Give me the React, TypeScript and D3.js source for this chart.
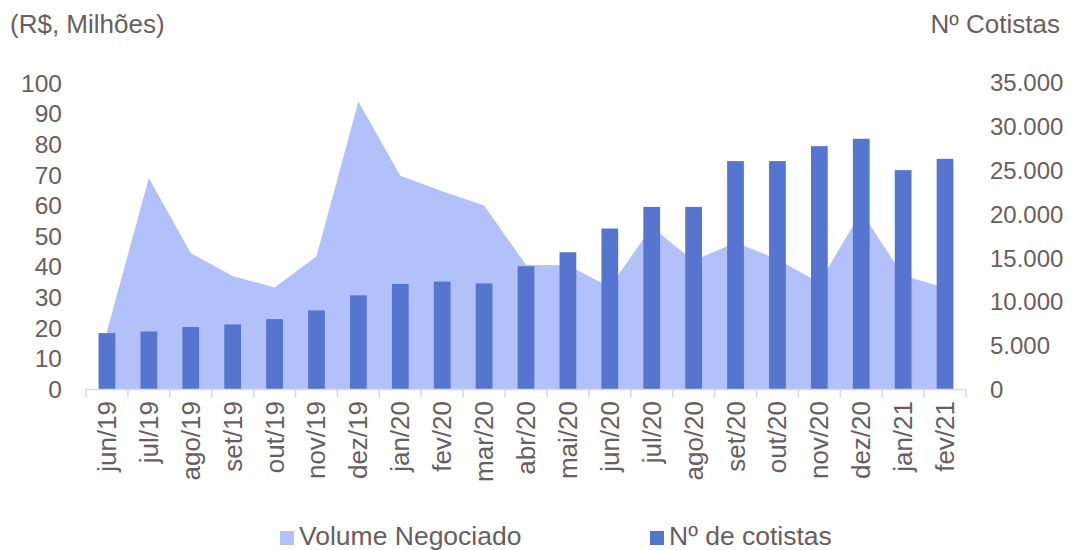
import React, { useEffect, useRef } from 'react';
import * as d3 from 'd3';

// meses do eixo x
const months = [
  'jun/19', 'jul/19', 'ago/19', 'set/19', 'out/19', 'nov/19', 'dez/19',
  'jan/20', 'fev/20', 'mar/20', 'abr/20', 'mai/20', 'jun/20', 'jul/20',
  'ago/20', 'set/20', 'out/20', 'nov/20', 'dez/20', 'jan/21', 'fev/21'
];

// Volume Negociado (R$, milhões) - eixo esquerdo
const volume = [
  19, 69, 44.5, 37, 33.3, 43.5, 94, 69.7, 64.7, 60, 40.7,
  40.5, 33.4, 53, 42, 48, 42.5, 34.8, 58, 37.2, 33.2
];

// Nº de cotistas - eixo direito
const cotistas = [
  6440, 6630, 7130, 7430, 8040, 9040, 10750, 12050, 12320, 12120, 14070,
  15670, 18380, 20850, 20850, 26080, 26080, 27790, 28630, 25050, 26340
];

const leftTicks = [0, 10, 20, 30, 40, 50, 60, 70, 80, 90, 100];
const rightTicks = [0, 5000, 10000, 15000, 20000, 25000, 30000, 35000];

const AREA_COLOR = '#B3C1FB';
const BAR_COLOR = '#5675CF';
const TEXT_COLOR = '#675E61';
const AXIS_COLOR = '#D9D9D9';
const FONT = '"Liberation Sans", Arial, sans-serif';

const App = () => {
  const svgRef = useRef<SVGSVGElement>(null);
  const width = 1073;
  const height = 550;

  useEffect(() => {
    const svg = d3.select(svgRef.current);
    svg.selectAll('*').remove();

    const left = 86, right = 966, top = 83, bottom = 389.5;

    const x = d3.scaleBand()
      .domain(months)
      .range([left, right])
      .paddingInner(0.6)
      .paddingOuter(0.3);

    const yLeft = d3.scaleLinear().domain([0, 100]).range([bottom, top]);
    const yRight = d3.scaleLinear().domain([0, 35000]).range([bottom, top]);

    const center = (m: string) => (x(m) as number) + x.bandwidth() / 2;

    // area do volume
    const area = d3.area<number>()
      .x((_, i) => center(months[i]))
      .y0(yLeft(0))
      .y1(d => yLeft(d));

    svg.append('path')
      .datum(volume)
      .attr('d', area)
      .attr('fill', AREA_COLOR);

    // barras de cotistas
    svg.append('g')
      .selectAll('rect')
      .data(cotistas)
      .join('rect')
      .attr('x', (_, i) => x(months[i]) as number)
      .attr('y', d => yRight(d))
      .attr('width', x.bandwidth())
      .attr('height', d => yRight(0) - yRight(d))
      .attr('fill', BAR_COLOR);

    // eixo x
    const step = x.step();
    svg.append('line')
      .attr('x1', left).attr('x2', right)
      .attr('y1', bottom).attr('y2', bottom)
      .attr('stroke', AXIS_COLOR).attr('stroke-width', 1.5);
    d3.range(months.length + 1).forEach(i => {
      svg.append('line')
        .attr('x1', left + i * step).attr('x2', left + i * step)
        .attr('y1', bottom).attr('y2', bottom + 8)
        .attr('stroke', AXIS_COLOR).attr('stroke-width', 1.5);
    });

    const txt = svg.append('g')
      .attr('font-family', FONT)
      .attr('fill', TEXT_COLOR);

    months.forEach(m => {
      txt.append('text')
        .attr('transform', `translate(${center(m) + 9}, 401) rotate(-90)`)
        .attr('text-anchor', 'end')
        .attr('font-size', 26)
        .text(m);
    });

    // eixo esquerdo
    leftTicks.forEach(t => {
      txt.append('text')
        .attr('x', 62)
        .attr('y', yLeft(t))
        .attr('dy', '0.35em')
        .attr('text-anchor', 'end')
        .attr('font-size', 24.5)
        .text(t);
    });

    // eixo direito
    const fmt = (v: number) => v === 0 ? '0' : d3.format(',')(v).replace(/,/g, '.');
    rightTicks.forEach(t => {
      txt.append('text')
        .attr('x', 990)
        .attr('y', yRight(t))
        .attr('dy', '0.35em')
        .attr('font-size', 24)
        .text(fmt(t));
    });

    // titulos dos eixos
    txt.append('text')
      .attr('x', 10).attr('y', 33)
      .attr('font-size', 26)
      .text('(R$, Milhões)');
    txt.append('text')
      .attr('x', 1060).attr('y', 33)
      .attr('text-anchor', 'end')
      .attr('font-size', 26)
      .text('Nº Cotistas');

    // legenda
    const legend = [
      { label: 'Volume Negociado', color: AREA_COLOR, x: 280 },
      { label: 'Nº de cotistas', color: BAR_COLOR, x: 650 }
    ];
    legend.forEach(l => {
      svg.append('rect')
        .attr('x', l.x).attr('y', 531)
        .attr('width', 14).attr('height', 14)
        .attr('fill', l.color);
      txt.append('text')
        .attr('x', l.x + 19).attr('y', 545)
        .attr('font-size', 26.5)
        .text(l.label);
    });
  }, []);

  return (
    <svg ref={svgRef} width={width} height={height}
      style={{ position: 'absolute', left: 0, top: 0 }} />
  );
};

export default App;
